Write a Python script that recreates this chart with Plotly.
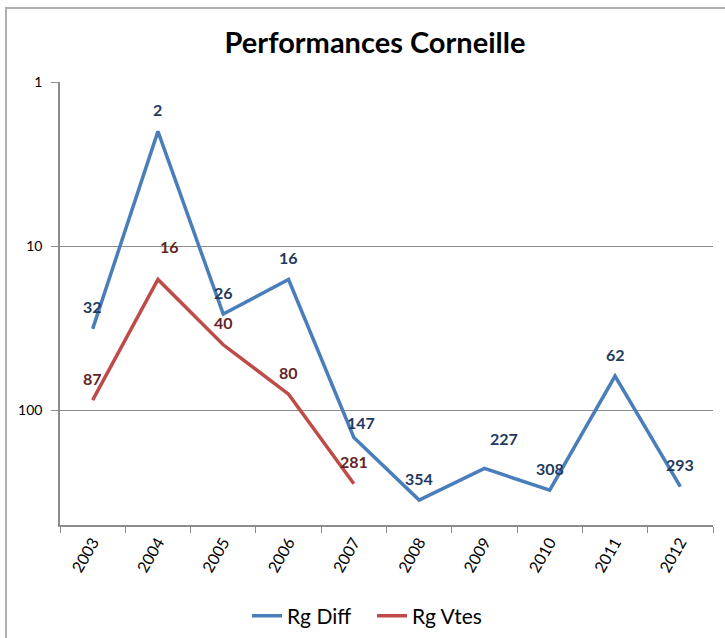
import plotly.graph_objects as go
import math

years = ["2003", "2004", "2005", "2006", "2007", "2008", "2009", "2010", "2011", "2012"]
rg_diff = [32, 2, 26, 16, 147, 354, 227, 308, 62, 293]
rg_vtes_years = ["2003", "2004", "2005", "2006", "2007"]
rg_vtes = [87, 16, 40, 80, 281]
y_ticks = [1, 10, 100]

FONT = "Lato, sans-serif"
GRID = "#8c8c8c"
BLUE, RED = "#4A7EBB", "#BE4B48"
BLUE_LBL, RED_LBL = "#1F3A5F", "#632523"

# label placement tweaks (pixel shifts), keyed by (series, year)
DEFAULT_SHIFT = (0, 22)
LABEL_SHIFTS = {("Rg Vtes", "2004"): (12, 33), ("Rg Diff", "2007"): (7, 15),
                ("Rg Diff", "2009"): (20, 30)}

fig = go.Figure()
fig.add_trace(go.Scatter(x=years, y=rg_diff, name="Rg Diff", mode="lines",
                         line=dict(color=BLUE, width=3.5)))
fig.add_trace(go.Scatter(x=rg_vtes_years, y=rg_vtes, name="Rg Vtes", mode="lines",
                         line=dict(color=RED, width=3.5)))

L, R, T, B = 60, 12, 82, 113
W, H = 725, 638
pw, ph = W - L - R, H - T - B

def px(x):
    return (x - L) / pw

def py(y):
    return 1 - (y - T) / ph

fig.update_layout(
    width=W, height=H,
    margin=dict(l=L, r=R, t=T, b=B, autoexpand=False),
    paper_bgcolor="white", plot_bgcolor="white",
    font=dict(family=FONT, color="#000000", size=14),
    title=dict(text="<b>Performances Corneille</b>", x=375 / W, xanchor="center",
               y=1 - 43 / H, yanchor="middle", font=dict(size=29, family=FONT)),
    showlegend=True,
    legend=dict(orientation="h", x=px(372), xanchor="center", y=py(616), yanchor="middle",
                font=dict(size=21, family=FONT), bgcolor="rgba(0,0,0,0)",
                entrywidth=80, entrywidthmode="pixels"),
    xaxis=dict(type="category", categoryorder="array", categoryarray=years,
               tickson="boundaries", ticks="outside", ticklen=6,
               tickcolor=GRID, showline=True, linecolor=GRID, linewidth=1.5,
               showgrid=False, tickangle=-60, tickfont=dict(size=16),
               range=[-0.5, 9.5]),
    yaxis=dict(type="log", range=[math.log10(502), 0], tickvals=y_ticks,
               ticktext=[str(v) for v in y_ticks], ticks="outside", ticklen=7,
               ticklabelstandoff=6,
               tickcolor=GRID, showline=True, linecolor=GRID, linewidth=1.5,
               showgrid=True, gridcolor=GRID, gridwidth=1.2, zeroline=False,
               tickfont=dict(size=14)),
    shapes=[dict(type="path", xref="paper", yref="paper",
                 path=f"M {px(6)} {py(650)} L {px(6)} {py(8)} L {px(740)} {py(8)}",
                 line=dict(color="#b0b0b0", width=2))],
)

for name, xs, ys, col in [("Rg Diff", years, rg_diff, BLUE_LBL),
                          ("Rg Vtes", rg_vtes_years, rg_vtes, RED_LBL)]:
    for x, v in zip(xs, ys):
        dx, dy = LABEL_SHIFTS.get((name, x), DEFAULT_SHIFT)
        fig.add_annotation(x=years.index(x), y=math.log10(v), xref="x", yref="y",
                           text="<b>" + str(v) + "</b>",
                           showarrow=False, xshift=dx, yshift=dy,
                           xanchor="center", yanchor="middle",
                           font=dict(size=16, color=col, family=FONT))

fig.write_html("out.html", config={"displayModeBar": False},
               post_script="document.body.style.margin='0';")
